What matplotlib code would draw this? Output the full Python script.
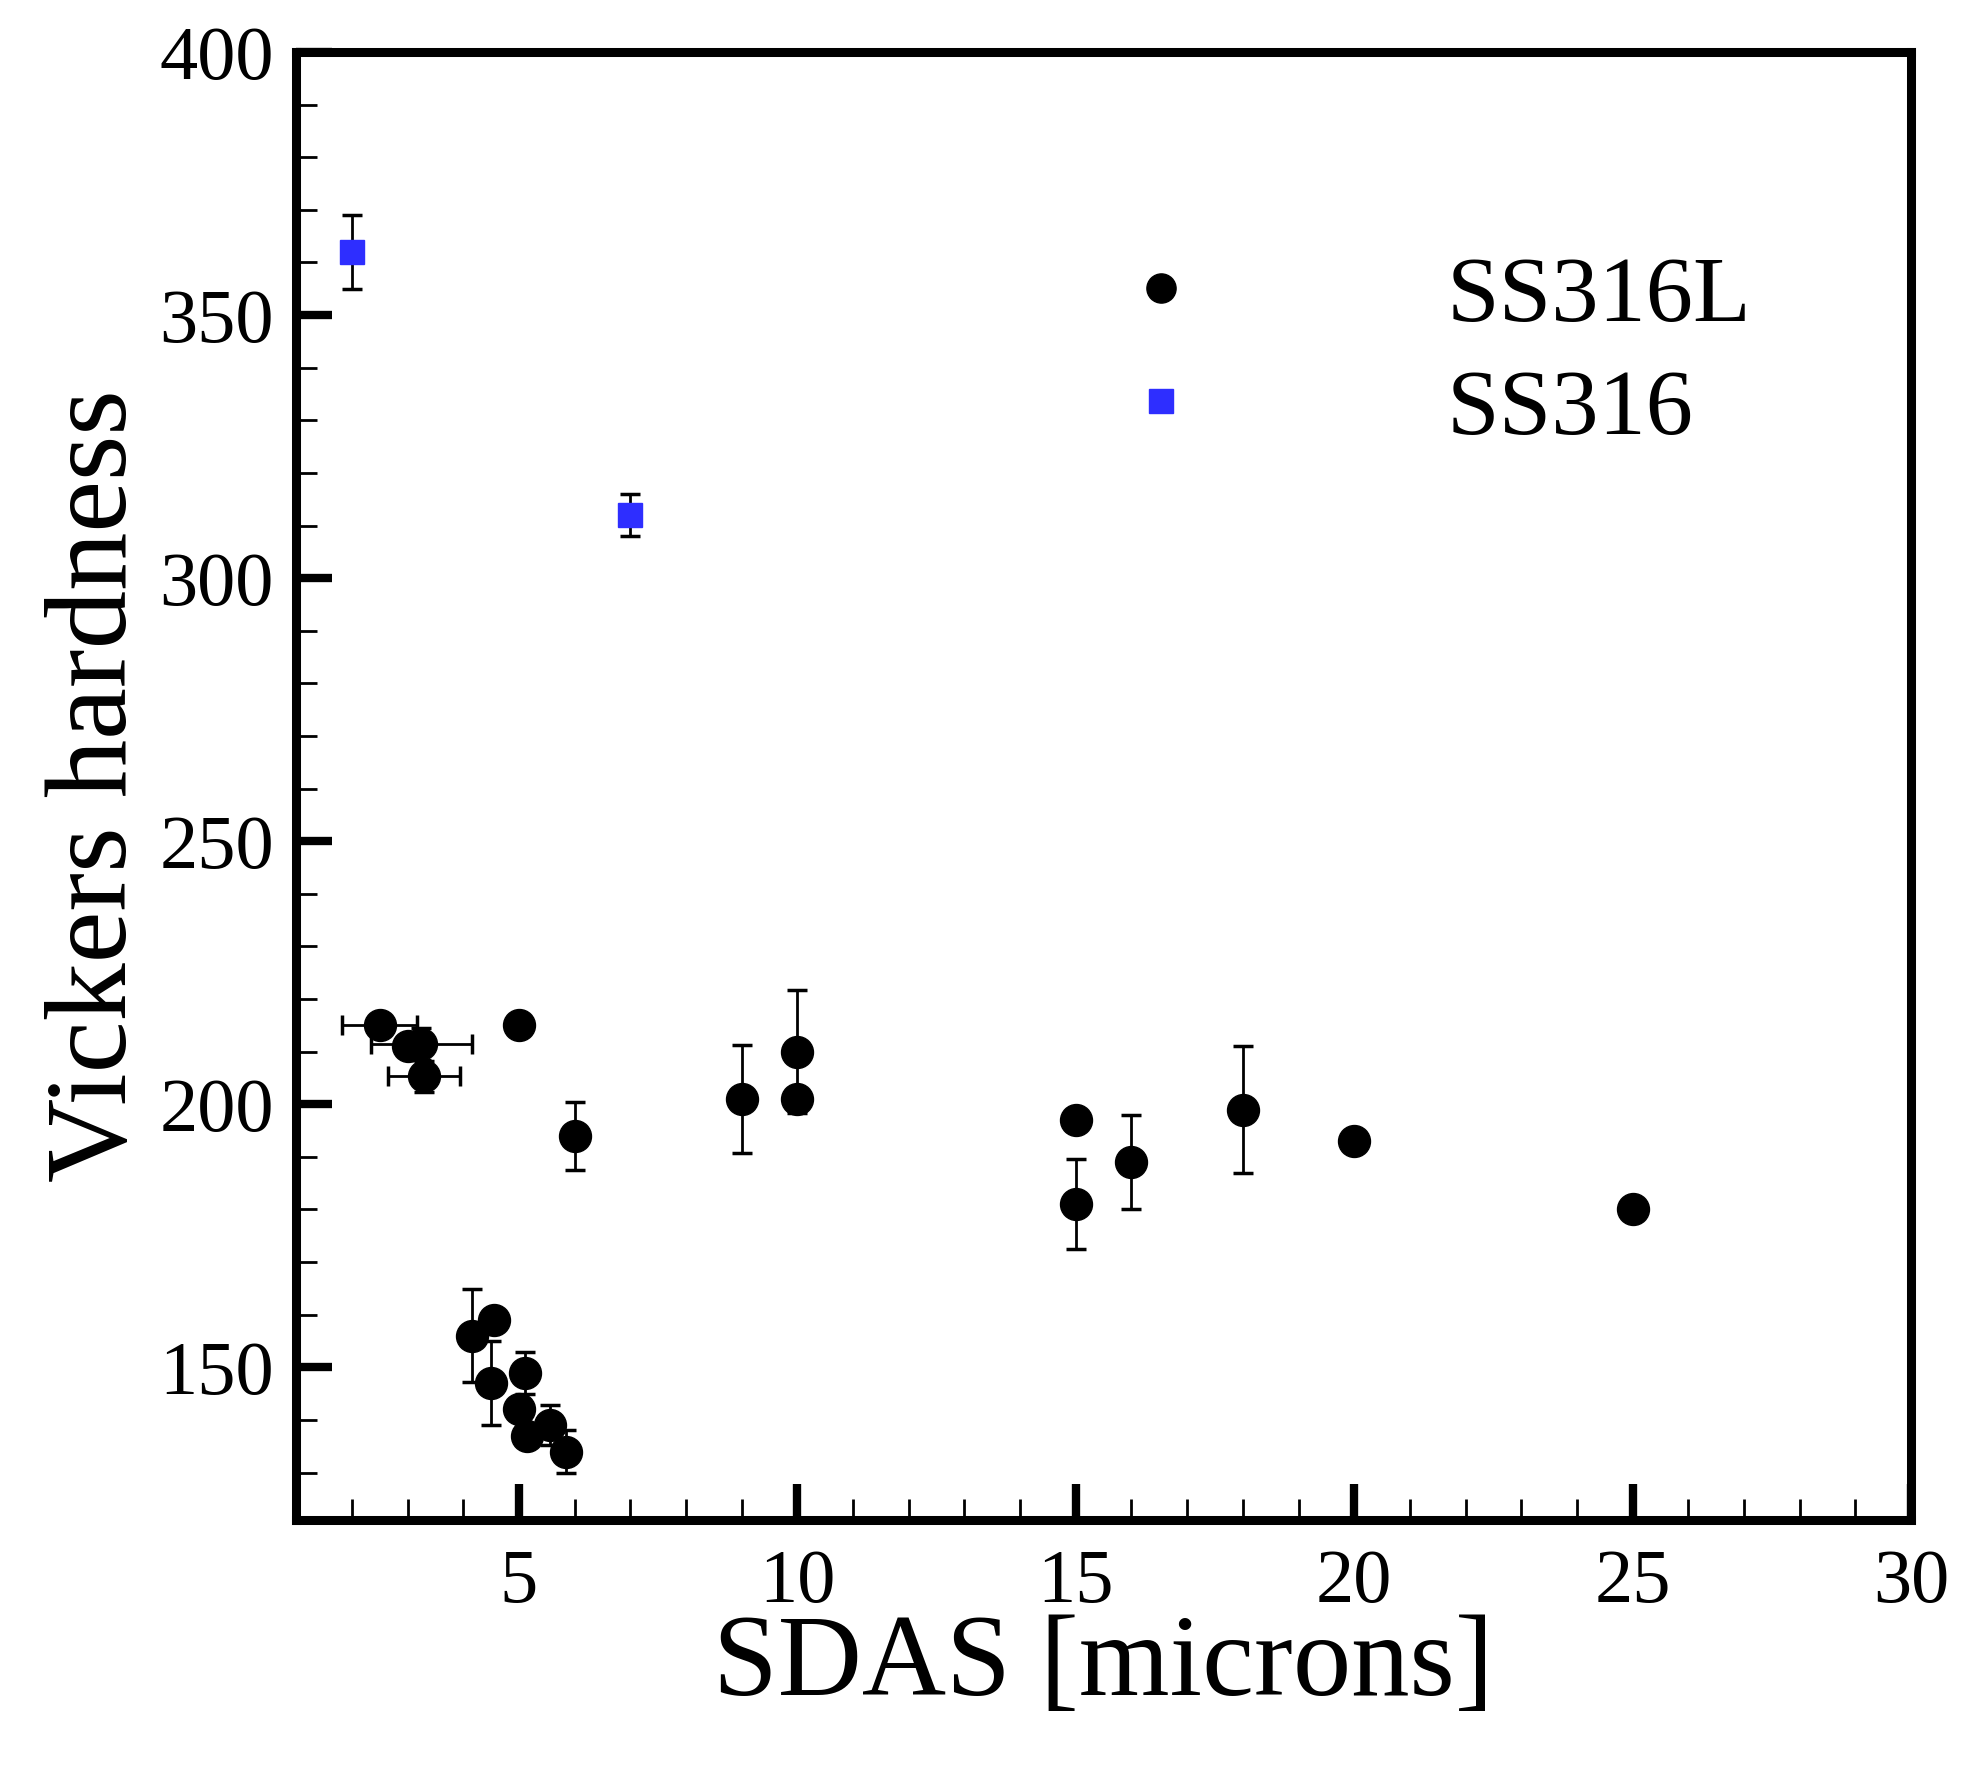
import matplotlib
matplotlib.use('Agg')
import matplotlib.pyplot as plt
from matplotlib.ticker import MultipleLocator
from matplotlib.lines import Line2D

plt.rcParams['font.family'] = ['Liberation Serif', 'DejaVu Serif']

# SS316L
sdas_l = [2.5, 3.0, 3.25, 3.3, 5.0, 6.0, 4.15, 4.55, 4.5, 5.1, 5.0, 5.15, 5.55, 5.85,
          9.0, 10.0, 10.0, 15.0, 15.0, 16.0, 18.0, 20.0, 25.0]
hv_l = [215, 211, 211.5, 205.3, 215, 194, 156, 159, 147, 149, 142, 137, 139, 134,
        201, 210, 201, 197, 181, 189, 199, 193, 180]
hv_l_err = [0, 0, 3, 3, 0, 6.4, 8.8, 0, 8, 4, 0, 0, 3.8, 4,
            10.3, 11.7, 0, 0, 8.6, 9, 12, 0, 0]
sdas_l_err = [0.67, 0, 0.9, 0.65, 0, 0, 0, 0, 0, 0, 0, 0, 0, 0,
              0, 0, 0, 0, 0, 0, 0, 0, 0]

# SS316
sdas_s = [2.0, 7.0]
hv_s = [362, 312]
hv_s_err = [7, 4]

fig = plt.figure(figsize=(19.68, 17.70), dpi=100)
ax = fig.add_axes([0.1505, 0.1413, 0.8206, 0.8293])

ax.errorbar(sdas_l, hv_l, yerr=hv_l_err, xerr=sdas_l_err, fmt='o', color='black',
            markersize=23, ecolor='black', elinewidth=2, capsize=7.5, capthick=2.5)
ax.errorbar(sdas_s, hv_s, yerr=hv_s_err, fmt='s', color='#2e2eff',
            markersize=17, ecolor='black', elinewidth=2, capsize=7.5, capthick=2.5)

ax.set_xlim(1, 30)
ax.set_ylim(121, 400)
ax.xaxis.set_major_locator(MultipleLocator(5))
ax.xaxis.set_minor_locator(MultipleLocator(1))
ax.yaxis.set_major_locator(MultipleLocator(50))
ax.yaxis.set_minor_locator(MultipleLocator(10))
ax.set_yticks([150, 200, 250, 300, 350, 400])

for s in ax.spines.values():
    s.set_linewidth(6.5)
ax.tick_params(which='major', direction='in', length=26, width=6, labelsize=55,
               top=False, right=False)
ax.tick_params(which='minor', direction='in', length=15, width=2,
               top=False, right=False)
ax.tick_params(axis='x', which='major', pad=21)
ax.tick_params(axis='y', which='major', pad=16)

ax.set_xlabel('SDAS [microns]', fontsize=84)
ax.set_ylabel('Vickers hardness', fontsize=84)
ax.xaxis.set_label_coords(0.5, -0.064)
ax.yaxis.set_label_coords(-0.090, 0.5)

handles = [Line2D([], [], ls='none', marker='o', color='black', markersize=21),
           Line2D([], [], ls='none', marker='s', color='#2e2eff', markersize=17)]
ax.legend(handles, ['SS316L', 'SS316'], loc='center left',
          bbox_to_anchor=(0.4247, 0.794), frameon=False, fontsize=68,
          handlelength=2, handletextpad=2.02, labelspacing=0.29)

fig.savefig('out.png', dpi=100)
